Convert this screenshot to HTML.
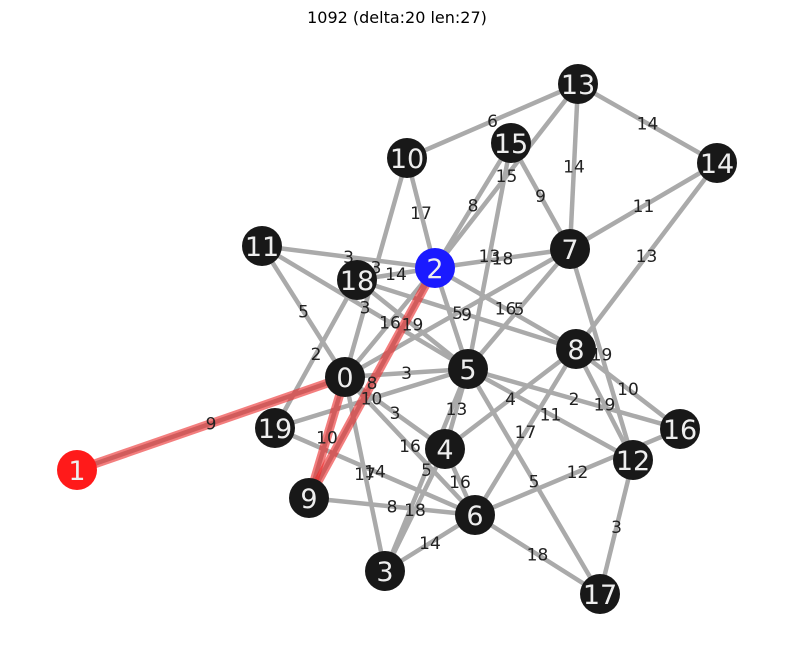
<!DOCTYPE html>
<html><head><meta charset="utf-8"><style>
body{margin:0;background:#fff;}
svg{display:block;font-family:"DejaVu Sans","Liberation Sans",sans-serif;}
</style></head><body>
<svg id="chart" width="794" height="658" viewBox="0 0 794 658">
<text x="397" y="23" text-anchor="middle" font-size="16" fill="#000">1092 (delta:20 len:27)</text>
<g id="edges"></g>
<g id="path"></g>
<g id="elabels"></g>
<g id="nodes"></g>
</svg>
<script>
const nodeIds=[0,1,2,3,4,5,6,7,8,9,10,11,12,13,14,15,16,17,18,19];
const nodeX=[345,77,435,385,445,468,475,570,576,309,407,262,633,578,717,511,680,600,357,275];
const nodeY=[377,470,268,571,449,369,515,249,349,498,158,246,460,84,163,143,429,594,280,428];
const edgeFrom=[1,0,2,13,13,13,2,15,15,15,2,10,10,11,11,11,2,18,18,18,0,0,0,0,19,19,9,3,3,3,5,4,4,5,5,5,6,6,6,12,8,8,7,7,14,2,5,0,18,2];
const edgeTo=[0,9,9,10,14,7,13,2,7,5,7,2,0,2,0,5,0,2,19,5,5,4,6,3,5,6,6,5,4,6,4,6,8,16,12,17,8,16,17,17,16,12,12,14,8,8,7,7,8,5];
const edgeWeight=[9,10,8,6,14,14,15,8,9,13,18,17,3,3,5,3,16,14,2,19,3,3,16,17,10,14,8,5,18,14,13,16,4,2,11,5,17,12,18,3,10,19,19,11,13,16,5,5,9,""];
const pathNodes=[1,0,9,2];
const sourceNode=1, targetNode=2;
const NS="http://www.w3.org/2000/svg";
function px(i){return nodeX[nodeIds.indexOf(i)];}
function py(i){return nodeY[nodeIds.indexOf(i)];}
const gE=document.getElementById('edges'),gP=document.getElementById('path'),gL=document.getElementById('elabels'),gN=document.getElementById('nodes');
for(let k=0;k<edgeFrom.length;k++){
  const a=edgeFrom[k],b=edgeTo[k];
  const l=document.createElementNS(NS,'line');
  
  
  l.setAttribute('x1',px(a));l.setAttribute('y1',py(a));l.setAttribute('x2',px(b));l.setAttribute('y2',py(b));
  l.setAttribute('stroke','#aaa');l.setAttribute('stroke-width','4.5');
  gE.appendChild(l);
  if(edgeWeight[k]!==""){
    const t=document.createElementNS(NS,'text');
    
    
    t.setAttribute('x',(px(a)+px(b))/2);t.setAttribute('y',(py(a)+py(b))/2+6);
    t.setAttribute('text-anchor','middle');t.setAttribute('font-size','17');t.setAttribute('fill','#222');
    t.textContent=edgeWeight[k];
    gL.appendChild(t);
  }
}
for(let k=0;k<pathNodes.length-1;k++){
  const a=pathNodes[k],b=pathNodes[k+1];
  const l=document.createElementNS(NS,'line');
  
  
  l.setAttribute('x1',px(a));l.setAttribute('y1',py(a));l.setAttribute('x2',px(b));l.setAttribute('y2',py(b));
  l.setAttribute('stroke','rgba(235,40,40,0.6)');l.setAttribute('stroke-width','9');
  gP.appendChild(l);
}
for(const id of nodeIds){
  const c=document.createElementNS(NS,'circle');
  
  
  c.setAttribute('cx',px(id));c.setAttribute('cy',py(id));c.setAttribute('r','20');
  c.setAttribute('fill',id===sourceNode?'#ff1a1a':(id===targetNode?'#1a1aff':'#181818'));
  gN.appendChild(c);
  const t=document.createElementNS(NS,'text');
  
  
  t.setAttribute('x',px(id));t.setAttribute('y',py(id)+10);
  t.setAttribute('text-anchor','middle');t.setAttribute('font-size','27');t.setAttribute('fill','#eee');
  t.textContent=id;
  gN.appendChild(t);
}
</script>
</body></html>
